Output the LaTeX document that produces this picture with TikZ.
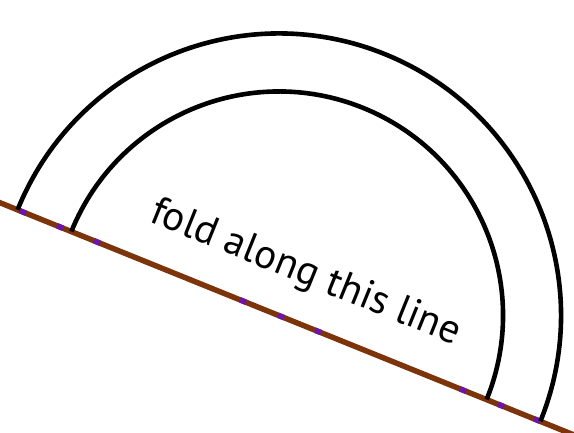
\documentclass[tikz,border=0pt]{standalone}
\usepackage{fontspec}
\setmainfont{PT Sans}
\usetikzlibrary{calc}
\definecolor{foldbrown}{RGB}{125,52,10}
\definecolor{markpurple}{RGB}{110,20,170}
\tikzset{
  arcline/.style={draw=black, line width=4.6pt},
  foldline/.style={draw=foldbrown, line width=5.5pt},
  foldmark/.style={draw=markpurple, line width=5.5pt},
  foldlabel/.style={font=\fontsize{41}{46}\selectfont, rotate=-22.03, anchor=base west, inner sep=0pt}
}
\begin{document}
\begin{tikzpicture}[x=1pt,y=1pt]
\useasboundingbox (0,0) rectangle (574,433);
\coordinate (A) at (-5,232.3);
\coordinate (B) at (574,-2);
\coordinate (C) at (279,117.5);
\draw[foldline] (A) -- (B);
\foreach \x in {23,60,97,243,281,318,463,501,537}{
  \draw[foldmark] ($(A)!{(\x+2)/579}!(B)$) -- ($(A)!{(\x+8)/579}!(B)$);
}
\draw[arcline] (C) ++(157.97:282) arc[start angle=157.97, end angle=-22.03, radius=282];
\draw[arcline] (C) ++(157.97:224) arc[start angle=157.97, end angle=-22.03, radius=224];
\node[foldlabel] (lbl) at (148,212) {fold along this line};
\end{tikzpicture}
\end{document}
